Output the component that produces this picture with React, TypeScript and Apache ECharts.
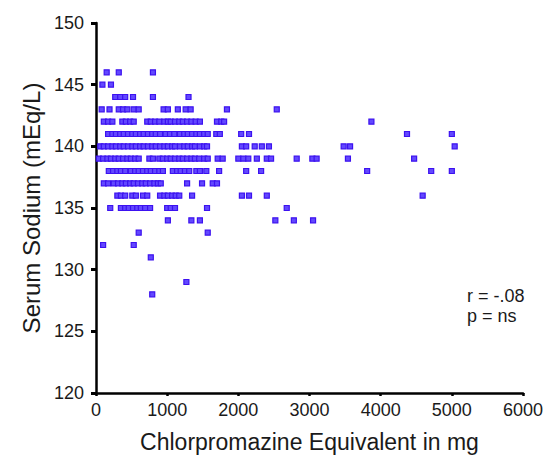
import React, { useEffect, useRef } from "react";
import * as echarts from "echarts";

// Chlorpromazine equivalent (mg) of each patient, grouped by serum sodium (mEq/L)
const dose146 = [150, 320, 800];
const dose145 = [90, 210];
const dose144 = [270, 340, 410, 520, 800, 1300];
const dose143 = [80, 190, 320, 380, 440, 530, 600, 950, 1010, 1150, 1260, 1330, 1840, 2540];
const dose142 = [110, 170, 230, 370, 420, 480, 530, 720, 770, 830, 890, 960, 1010, 1050, 1110, 1170, 1220, 1280, 1340, 1400, 1460, 1700, 1760, 1800, 3870];
const dose141 = [170, 230, 280, 340, 390, 450, 510, 560, 620, 670, 730, 790, 840, 900, 980, 1040, 1100, 1180, 1240, 1290, 1350, 1410, 1460, 1520, 1570, 1690, 1740, 2040, 2150, 4370, 5000];
const dose140 = [60, 110, 170, 230, 280, 340, 390, 450, 510, 560, 620, 670, 730, 790, 840, 900, 960, 1010, 1070, 1110, 1180, 1240, 1290, 1350, 1390, 1460, 1520, 1560, 2050, 2110, 2230, 2330, 2430, 3480, 3570, 5040];
const dose139 = [40, 100, 160, 210, 270, 320, 380, 440, 490, 550, 600, 750, 800, 890, 940, 1000, 1050, 1110, 1170, 1220, 1280, 1340, 1390, 1450, 1520, 1570, 1710, 1780, 2000, 2070, 2140, 2260, 2400, 2460, 2820, 3040, 3100, 3540, 4470];
const dose138 = [180, 240, 300, 350, 410, 490, 550, 600, 660, 720, 770, 830, 890, 940, 1080, 1140, 1190, 1250, 1310, 1410, 1460, 1550, 1730, 2110, 2320, 3810, 4710, 5000];
const dose137 = [110, 170, 250, 310, 370, 420, 480, 530, 590, 650, 700, 760, 820, 870, 910, 1280, 1490, 1640, 1700];
const dose136 = [300, 350, 410, 510, 560, 660, 720, 900, 960, 1010, 1070, 1120, 1170, 1350, 2050, 2150, 2400, 4590];
const dose135 = [200, 350, 410, 460, 520, 580, 630, 690, 760, 1000, 1050, 1110, 1560, 2680];
const dose134 = [1010, 1340, 1460, 2520, 2780, 3050];
const dose133 = [600, 1570];
const dose132 = [100, 530];
const dose131 = [770];
const dose129 = [1270];
const dose128 = [790];

const sodiumLevels = [146, 145, 144, 143, 142, 141, 140, 139, 138, 137, 136, 135, 134, 133, 132, 131, 129, 128];
const dosesByLevel = [dose146, dose145, dose144, dose143, dose142, dose141, dose140, dose139, dose138, dose137, dose136, dose135, dose134, dose133, dose132, dose131, dose129, dose128];

const xTicks = [0, 1000, 2000, 3000, 4000, 5000, 6000];
const yTicks = [120, 125, 130, 135, 140, 145, 150];
const statLines = ["r = -.08", "p = ns"];

const FONT = "'Liberation Sans', Arial, Helvetica, sans-serif";

export default function App() {
  const ref = useRef<HTMLDivElement>(null);
  useEffect(() => {
    if (!ref.current) return;
    const chart = echarts.init(ref.current, null, { renderer: "svg" });
    const data: number[][] = [];
    sodiumLevels.forEach((lvl, i) => {
      dosesByLevel[i].forEach((d) => data.push([d, lvl]));
    });
    chart.setOption({
      animation: false,
      backgroundColor: "#ffffff",
      grid: { left: 96, top: 23, right: 24, bottom: 58, containLabel: false },
      xAxis: {
        type: "value",
        min: xTicks[0],
        max: xTicks[xTicks.length - 1],
        interval: 1000,
        name: "Chlorpromazine Equivalent in mg",
        nameLocation: "middle",
        nameGap: 37,
        nameTextStyle: { fontFamily: FONT, fontSize: 23, color: "#1a1a1a" },
        axisLine: { lineStyle: { color: "#000", width: 2.5 } },
        axisTick: { show: true, length: 3, lineStyle: { color: "#000", width: 2.5 } },
        axisLabel: { fontFamily: FONT, fontSize: 18, color: "#1a1a1a", margin: 8, formatter: (v: number) => String(v) },
        splitLine: { show: false },
      },
      yAxis: {
        type: "value",
        min: yTicks[0],
        max: yTicks[yTicks.length - 1],
        interval: 5,
        name: "Serum Sodium (mEq/L)",
        nameLocation: "middle",
        nameGap: 53,
        nameTextStyle: { fontFamily: FONT, fontSize: 24, color: "#1a1a1a" },
        axisLine: { lineStyle: { color: "#000", width: 2.5 } },
        axisTick: { show: true, length: 5, lineStyle: { color: "#000", width: 3 } },
        axisLabel: { fontFamily: FONT, fontSize: 18, color: "#1a1a1a", margin: 12, formatter: (v: number) => String(v) },
        splitLine: { show: false },
      },
      graphic: [
        {
          type: "text",
          left: 467,
          top: 286,
          style: {
            text: statLines.join("\n"),
            font: `18px ${FONT}`,
            fill: "#1a1a1a",
            lineHeight: 20,
          },
        },
      ],
      series: [
        {
          type: "scatter",
          data,
          symbol: "rect",
          symbolSize: 5,
          itemStyle: { color: "#6248ff", borderColor: "#3c12f0", borderWidth: 1.2, opacity: 1 },
        },
      ],
    });
    return () => chart.dispose();
  }, []);
  return (
    <div
      ref={ref}
      style={{ position: "absolute", left: 0, top: 0, width: 547, height: 458 }}
    />
  );
}
